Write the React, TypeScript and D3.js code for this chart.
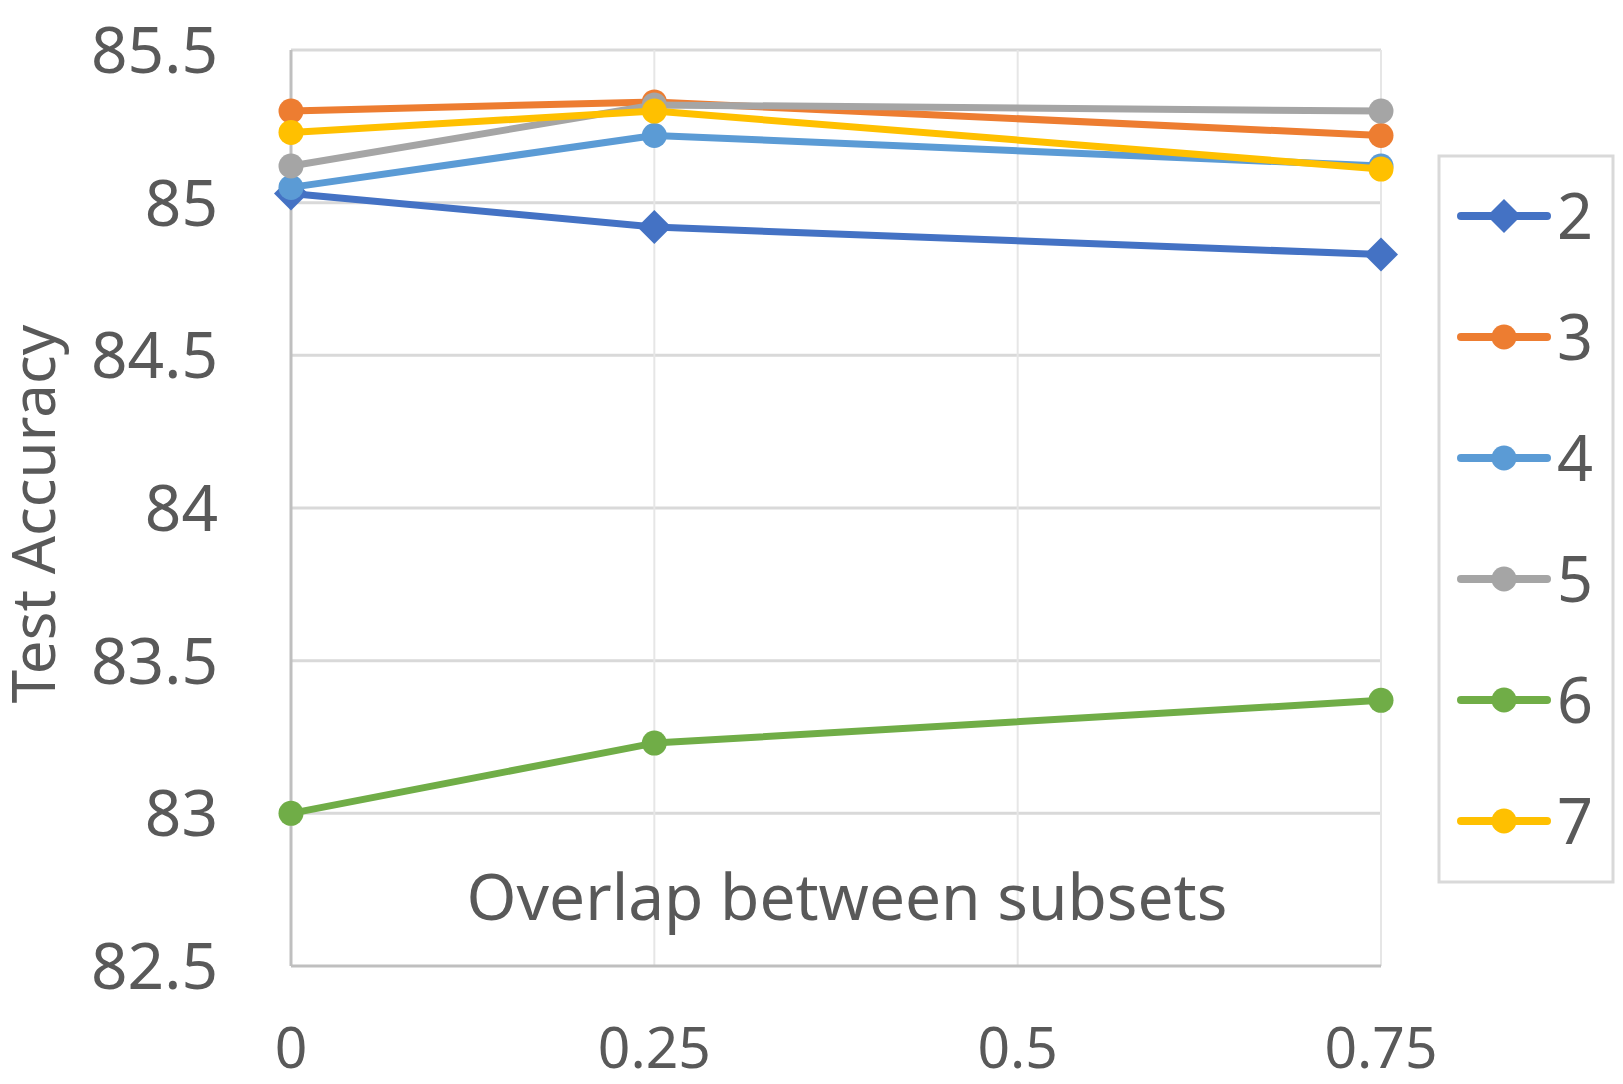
import * as d3 from 'd3'

const overlaps = [0, 0.25, 0.75]
const xTicks = [0, 0.25, 0.5, 0.75]
const yTicks = [82.5, 83, 83.5, 84, 84.5, 85, 85.5]

const seriesNames = ['2', '3', '4', '5', '6', '7']
const seriesColors = ['#4472C4', '#ED7D31', '#5B9BD5', '#A5A5A5', '#70AD47', '#FFC000']
const seriesValues = [
  [85.03, 84.92, 84.83],
  [85.3, 85.33, 85.22],
  [85.05, 85.22, 85.12],
  [85.12, 85.32, 85.3],
  [83.0, 83.23, 83.37],
  [85.23, 85.3, 85.11],
]

const W = 1623
const H = 1084
const font = '"Noto Sans", "Open Sans", sans-serif'
const textColor = '#595959'

export default function App() {
  const x = d3.scaleLinear().domain([0, 0.75]).range([291, 1381])
  const y = d3.scaleLinear().domain([82.5, 85.5]).range([966, 50])
  const line = d3.line<number>()
    .x((_, i) => x(overlaps[i]))
    .y(v => y(v))

  const diamond = (cx: number, cy: number, r: number) =>
    `M${cx},${cy - r}L${cx + r},${cy}L${cx},${cy + r}L${cx - r},${cy}Z`

  const marker = (si: number, cx: number, cy: number, key: string) =>
    si === 0
      ? <path key={key} d={diamond(cx, cy, 17)} fill={seriesColors[si]} />
      : <circle key={key} cx={cx} cy={cy} r={12.5} fill={seriesColors[si]} />

  return (
    <svg width={W} height={H} style={{ position: 'absolute', left: 0, top: 0, background: '#fff' }}>
      {/* gridlines */}
      {yTicks.slice(1).map(t => (
        <line key={'gy' + t} x1={x(0)} x2={x(0.75)} y1={y(t)} y2={y(t)} stroke="#D9D9D9" strokeWidth={3} />
      ))}
      {xTicks.slice(1).map(t => (
        <line key={'gx' + t} x1={x(t)} x2={x(t)} y1={y(85.5)} y2={y(82.5)} stroke="#E6E6E6" strokeWidth={2} />
      ))}
      {/* axes */}
      <line x1={x(0)} x2={x(0.75)} y1={y(82.5)} y2={y(82.5)} stroke="#BFBFBF" strokeWidth={3} />
      <line x1={x(0)} x2={x(0)} y1={y(85.5)} y2={y(82.5)} stroke="#BFBFBF" strokeWidth={3} />

      {/* tick labels */}
      {yTicks.map(t => (
        <text key={'ty' + t} x={218} y={y(t)} dy="0.36em" textAnchor="end" fontFamily={font} fontSize={64} fill={textColor}>
          {t}
        </text>
      ))}
      {xTicks.map(t => (
        <text key={'tx' + t} x={x(t)} y={1068} textAnchor="middle" fontFamily={font} fontSize={57} fill={textColor}>
          {t}
        </text>
      ))}

      {/* axis titles */}
      <text transform="translate(55,514) rotate(-90)" textAnchor="middle" fontFamily={font} fontSize={60} fill={textColor}>
        Test Accuracy
      </text>
      <text x={847} y={920} textAnchor="middle" fontFamily={font} fontSize={64} fill={textColor}>
        Overlap between subsets
      </text>

      {/* series */}
      {seriesValues.map((vals, si) => (
        <g key={'s' + si}>
          <path d={line(vals) ?? ''} fill="none" stroke={seriesColors[si]} strokeWidth={7} strokeLinejoin="round" />
          {vals.map((v, i) => marker(si, x(overlaps[i]), y(v), 'm' + i))}
        </g>
      ))}

      {/* legend */}
      <rect x={1439} y={156} width={174} height={726} fill="#fff" stroke="#D9D9D9" strokeWidth={3} />
      {seriesNames.map((name, si) => {
        const cy = 216 + si * 121
        return (
          <g key={'l' + si}>
            <line x1={1461} x2={1547} y1={cy} y2={cy} stroke={seriesColors[si]} strokeWidth={8} strokeLinecap="round" />
            {marker(si, 1504, cy, 'lm')}
            <text x={1557} y={cy + 23} fontFamily={font} fontSize={63} fill={textColor}>{name}</text>
          </g>
        )
      })}
    </svg>
  )
}
